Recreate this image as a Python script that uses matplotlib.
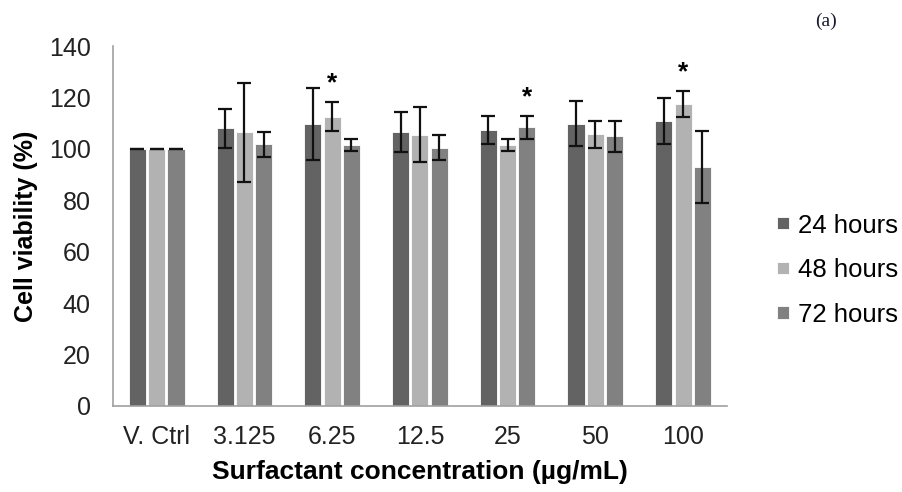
import matplotlib
matplotlib.use('Agg')
import matplotlib.pyplot as plt
import numpy as np

# data
categories = ['V. Ctrl', '3.125', '6.25', '12.5', '25', '50', '100']
series_names = ['24 hours', '48 hours', '72 hours']
means_24h = [100, 108, 109.5, 106.5, 107.4, 109.8, 110.8]
means_48h = [100, 106.5, 112.5, 105.5, 101.5, 105.7, 117.4]
means_72h = [100, 101.8, 101.5, 100.5, 108.4, 104.9, 93]
err_24h = [0, 7.5, 14, 7.7, 5.5, 8.7, 9]
err_48h = [0, 19.3, 5.7, 10.7, 2.5, 5.2, 5.2]
err_72h = [0, 4.9, 2.5, 4.8, 4.5, 6, 14]
# significance stars: (category index, series index)
stars = [(2, 1), (4, 2), (6, 1)]

colors = ['#636363', '#b2b2b2', '#818181']

plt.rcParams['font.family'] = ['Liberation Sans', 'DejaVu Sans']

fig = plt.figure(figsize=(9.03, 4.92), dpi=100)
ax = fig.add_axes([0.125, 0.175, 0.68, 0.7315])

x = np.arange(len(categories))
pitch = 0.22
width = 0.195
means = [means_24h, means_48h, means_72h]
errs = [err_24h, err_48h, err_72h]
for i, (m, e) in enumerate(zip(means, errs)):
    pos = x + (i - 1) * pitch
    ax.bar(pos, m, width, color=colors[i], edgecolor='white', linewidth=0.6,
           label=series_names[i], zorder=2)
    ax.errorbar(pos, m, yerr=e, fmt='none', ecolor='#111111', elinewidth=1.6,
                capsize=5, capthick=1.6, zorder=3)

for ci, si in stars:
    top = means[si][ci] + errs[si][ci]
    ax.text(x[ci] + (si - 1) * pitch, top + 2.5, '*', ha='center', va='bottom',
            fontsize=19, fontweight='bold', color='black')

ax.set_xlim(-0.5, len(categories) - 0.5)
ax.set_ylim(0, 140)
ax.set_yticks(range(0, 141, 20))
ax.set_xticks(x)
ax.set_xticklabels(categories)
ax.tick_params(axis='both', length=0, labelsize=18, colors='#222222')
ax.tick_params(axis='y', pad=16)
ax.tick_params(axis='x', pad=14)
for s in ['top', 'right']:
    ax.spines[s].set_visible(False)
for s in ['left', 'bottom']:
    ax.spines[s].set_color('#a0a0a0')
    ax.spines[s].set_linewidth(1.2)

ax.set_ylabel('Cell viability (%)', fontsize=18, fontweight='bold', labelpad=8)
ax.set_xlabel('Surfactant concentration (\u00b5g/mL)', fontsize=19,
              fontweight='bold', labelpad=8)

fig.legend(loc='center left', bbox_to_anchor=(0.861, 0.451), frameon=False,
           fontsize=18.5, handlelength=0.45, handleheight=0.35,
           handletextpad=0.35, labelspacing=0.8, borderpad=0, borderaxespad=0)

fig.text(0.915, 0.957, '(a)', fontsize=14, family='Liberation Serif',
         ha='center', va='center', color='#1a1a2e')

fig.savefig('out.png', dpi=100)
